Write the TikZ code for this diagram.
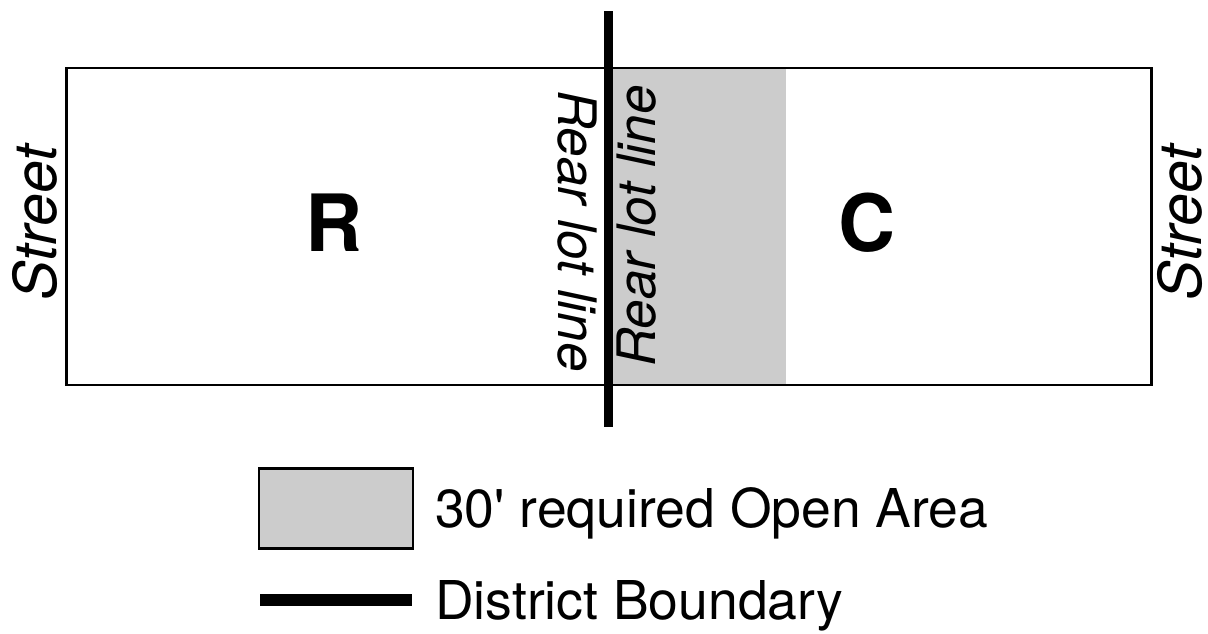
\documentclass[tikz,border=0pt]{standalone}
\usepackage{fontspec}
\setmainfont{TeX Gyre Heros}[Ligatures=TeXOff]
\begin{document}
\begin{tikzpicture}[x=1pt,y=-1pt,
  lbl/.style={inner sep=0pt, font=\fontsize{53.5}{60}\selectfont},
  street/.style={inner sep=0pt, font=\fontsize{59}{64}\selectfont\itshape, rotate=90},
  rear/.style={inner sep=0pt, font=\fontsize{53}{60}\selectfont\itshape},
  zone/.style={inner sep=0pt, font=\fontsize{79}{86}\selectfont\bfseries},
  lot/.style={draw=black, line width=2.5pt},
  boundary/.style={line width=9pt, black},
  openarea/.style={fill=black!20}
]
\useasboundingbox (0,0) rectangle (1208,633);
% open area
\fill[openarea] (609,68) rectangle (786,385);
% lot
\draw[lot] (66.5,68) rectangle (1151.5,385);
% district boundary
\coordinate (btop) at (608.5,11);
\coordinate (bbot) at (608.5,427);
\draw[boundary] (btop) -- (bbot);
% labels
\node[street] (sl) at (35,223) {Street};
\node[street] (sr) at (1180,223) {Street};
\node[zone] (R) at (334,223) {R};
\node[zone] (C) at (867,223) {C};
\node[rear, rotate=-90] (rl) at (577,231) {Rear lot line};
\node[rear, rotate=90] (rr) at (637,226) {Rear lot line};
% legend
\node[draw=black, line width=2.5pt, fill=black!20, minimum width=154pt, minimum height=80pt, inner sep=0pt] (lbox) at (336,508.5) {};
\node[lbl, anchor=base west] (ltxt1) at (435,527) {30' required Open Area};
\coordinate (l2a) at (260,600);
\coordinate (l2b) at (412,600);
\draw[line width=12pt, black] (l2a) -- (l2b);
\node[lbl, anchor=base west] (ltxt2) at (435,619) {District Boundary};
\end{tikzpicture}
\end{document}
